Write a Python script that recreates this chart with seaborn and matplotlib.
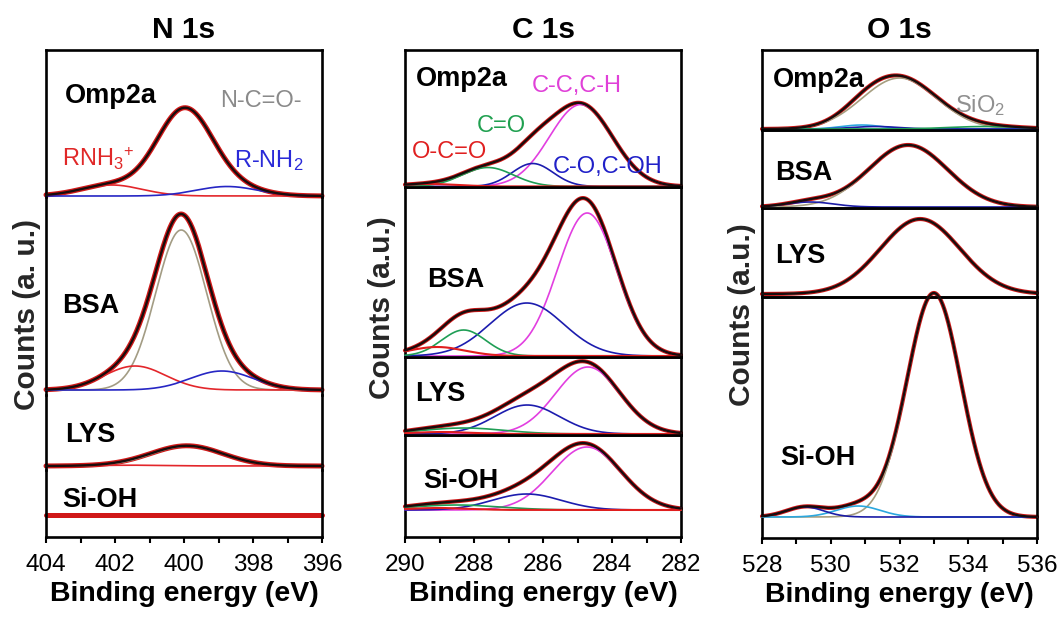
import numpy as np
import matplotlib
matplotlib.use("Agg")
import matplotlib.pyplot as plt
import seaborn as sns
from matplotlib.ticker import MultipleLocator, FormatStrFormatter

# ------------------------------------------------------------------
# DATA: fitted XPS peak components
# (centre in eV, height in a.u., FWHM in eV) for each sample
# ------------------------------------------------------------------
SAMPLES = ["Omp2a", "BSA", "LYS", "Si-OH"]

# ---- N 1s : components N-C=O- , RNH3+ , R-NH2
N1S_XRANGE = (404, 396)
N1S_COMPONENTS = ["N-C=O-", "RNH3+", "R-NH2"]
N1S_CENTER = {"Omp2a": [400.0, 402.1, 398.75],
              "BSA":   [400.08, 401.42, 398.9],
              "LYS":   [399.9, 401.5, 398.8],
              "Si-OH": [400.0, 401.5, 398.8]}
N1S_HEIGHT = {"Omp2a": [84, 11, 9.5],
              "BSA":   [160, 24, 19],
              "LYS":   [20, 0.8, 0],
              "Si-OH": [0, 0, 0]}
N1S_FWHM = {"Omp2a": [1.88, 2.1, 2.1],
            "BSA":   [1.74, 2.1, 2.15],
            "LYS":   [2.45, 2.4, 2.0],
            "Si-OH": [2.0, 2.0, 2.0]}

# ---- C 1s : components C-C,C-H , C-O,C-OH , C=O , O-C=O
C1S_XRANGE = (290, 282)
C1S_COMPONENTS = ["C-C,C-H", "C-O,C-OH", "C=O", "O-C=O"]
C1S_CENTER = {"Omp2a": [284.9, 286.3, 287.6, 289.3],
              "BSA":   [284.72, 286.47, 288.3, 289.07],
              "LYS":   [284.7, 286.46, 288.3, 288.9],
              "Si-OH": [284.73, 286.47, 288.5, 289.0]}
C1S_HEIGHT = {"Omp2a": [82, 23, 19, 2.5],
              "BSA":   [143, 53, 26, 9],
              "LYS":   [67, 29, 6, 2],
              "Si-OH": [63, 16, 5, 2]}
C1S_FWHM = {"Omp2a": [2.15, 1.4, 1.75, 2.0],
            "BSA":   [2.02, 2.5, 1.5, 1.9],
            "LYS":   [2.2, 2.2, 2.8, 2.0],
            "Si-OH": [2.35, 2.35, 3.0, 2.0]}

# ---- O 1s : components SiO2 , peak 2 , peak 3 , peak 4
O1S_XRANGE = (528, 536)
O1S_COMPONENTS = ["SiO2", "peak 2", "peak 3", "peak 4"]
O1S_CENTER = {"Omp2a": [532.0, 530.9, 531.3, 534.5],
              "BSA":   [532.25, 531.0, 529.4, 534.0],
              "LYS":   [532.6, 531.0, 529.5, 534.0],
              "Si-OH": [533.0, 530.8, 529.25, 534.0]}
O1S_HEIGHT = {"Omp2a": [51, 4, 2.5, 2.5],
              "BSA":   [62, 0, 5, 0],
              "LYS":   [75, 0, 0, 0],
              "Si-OH": [224, 11, 10, 0]}
O1S_FWHM = {"Omp2a": [2.55, 1.4, 1.6, 2.5],
            "BSA":   [2.7, 1.4, 1.6, 2.5],
            "LYS":   [2.72, 1.4, 1.6, 2.5],
            "Si-OH": [1.85, 1.5, 1.3, 2.5]}

# ------------------------------------------------------------------
# STYLE / LAYOUT
# ------------------------------------------------------------------
sns.set_theme(style="white")
plt.rcParams["font.family"] = ["Liberation Sans", "DejaVu Sans"]
plt.rcParams["mathtext.fontset"] = "custom"
plt.rcParams["mathtext.rm"] = "Liberation Sans"
plt.rcParams["mathtext.it"] = "Liberation Sans"
plt.rcParams["mathtext.bf"] = "Liberation Sans:bold"
plt.rcParams["axes.formatter.useoffset"] = False

RAW_COLOR = "#d01818"
FIT_COLOR = "#1a0c0c"
N_COLORS = ["#a39c84", "#e3262b", "#2626c4"]
C_COLORS = ["#e23fe0", "#1c1cae", "#1f9e55", "#e01e1e"]
O_COLORS = ["#a69e80", "#2ba7de", "#1c1ca6", "#1f9e55"]

W, H = 1059, 619
fig = plt.figure(figsize=(W / 100, H / 100), dpi=100)
fig.patch.set_facecolor("white")

# columns: x0, x1, rows (top, bottom, baseline) in pixels
COLUMNS = [
    ("N 1s", N1S_XRANGE, N1S_CENTER, N1S_HEIGHT, N1S_FWHM, N_COLORS, 46, 322,
     [(50, 197, 196), (197, 395, 390), (395, 470, 466), (470, 537, 515)], False),
    ("C 1s", C1S_XRANGE, C1S_CENTER, C1S_HEIGHT, C1S_FWHM, C_COLORS, 405, 681,
     [(50, 187, 186.5), (187, 357, 356), (357, 435, 434), (435, 537, 510)], True),
    ("O 1s", O1S_XRANGE, O1S_CENTER, O1S_HEIGHT, O1S_FWHM, O_COLORS, 762, 1037,
     [(50, 130, 129), (130, 208, 207), (208, 297, 294), (297, 538, 517)], True),
]
HIDDEN = {("N 1s", "Omp2a", 0)}


def px_axes(x0, x1, y0, y1):
    return fig.add_axes([x0 / W, 1 - y1 / H, (x1 - x0) / W, (y1 - y0) / H])


def ftext(x, y, s, **kw):
    fig.text(x / W, 1 - y / H, s, va="baseline", ha="left", **kw)


def peak(E, c, h, w):
    return h * np.exp(-4 * np.log(2) * (E - c) ** 2 / w ** 2)


for (title, xr, CEN, HEI, FWH, cols, x0, x1, rows, seps) in COLUMNS:
    E = np.linspace(min(xr), max(xr), 500)
    for i, (sample, (y0, y1, yb)) in enumerate(zip(SAMPLES, rows)):
        ax = px_axes(x0, x1, y0, y1)
        ax.set_facecolor("none")
        comps = [peak(E, c, h, w) for c, h, w in zip(CEN[sample], HEI[sample], FWH[sample])]
        env = np.sum(comps, axis=0)
        raw_lw = 3.6 if title == "N 1s" else 3.0
        sns.lineplot(x=E, y=env, ax=ax, color=RAW_COLOR, linewidth=raw_lw,
                     clip_on=False, legend=False, zorder=2)
        for k, (comp, col) in enumerate(zip(comps, cols)):
            if HEI[sample][k] == 0 or (title, sample, k) in HIDDEN:
                continue
            lw = 1.5 if (title == "C 1s" and k == 3) else 1.2
            sns.lineplot(x=E, y=comp, ax=ax, color=col, linewidth=lw,
                         clip_on=False, legend=False, zorder=3)
        if np.max(env) > 0:
            sns.lineplot(x=E, y=env, ax=ax, color=FIT_COLOR, linewidth=1.7,
                         clip_on=False, legend=False, zorder=4)
        ax.set_xlim(*xr)
        ax.set_ylim(yb - y1, yb - y0)
        ax.set_xlabel("")
        ax.set_ylabel("")
        for sp in ax.spines.values():
            sp.set_linewidth(1.9)
            sp.set_color("black")
            sp.set_visible(True)
        if not seps:
            if i > 0:
                ax.spines["top"].set_visible(False)
            if i < len(SAMPLES) - 1:
                ax.spines["bottom"].set_visible(False)
        ax.set_yticks([])
        if i == len(SAMPLES) - 1:
            ax.xaxis.set_major_locator(MultipleLocator(2))
            ax.xaxis.set_minor_locator(MultipleLocator(1))
            ax.xaxis.set_major_formatter(FormatStrFormatter("%d"))
            ax.tick_params(axis="x", which="both", direction="out", length=4.5,
                           width=1.5, color="black", bottom=True, top=False)
            ax.tick_params(axis="x", which="major", pad=8, labelsize=17.5,
                           labelcolor="black")
            ax.set_xlabel("Binding energy (eV)", fontsize=20.5, fontweight="bold",
                          labelpad=3, color="black")
        else:
            ax.set_xticks([])
        if i == 0:
            ax.set_title(title, fontsize=21.5, fontweight="bold", pad=8.5,
                         color="black")

# y labels
fig.text(27 / W, 1 - 314 / H, "Counts (a. u.)", rotation=90, ha="center",
         va="center", fontsize=21.5, fontweight="bold")
fig.text(382 / W, 1 - 308 / H, "Counts (a.u.)", rotation=90, ha="center",
         va="center", fontsize=21.5, fontweight="bold")
fig.text(742 / W, 1 - 315 / H, "Counts (a.u.)", rotation=90, ha="center",
         va="center", fontsize=21.5, fontweight="bold")

# sample labels
SB = dict(fontsize=19.5, fontweight="bold", color="black")
for (x, y, s) in [(65, 103, "Omp2a"), (62, 313, "BSA"), (65, 442, "LYS"), (62, 507, "Si-OH"),
                  (416, 86, "Omp2a"), (427, 287, "BSA"), (415, 401, "LYS"), (423, 488, "Si-OH"),
                  (773, 87, "Omp2a"), (775, 180, "BSA"), (775, 263, "LYS"), (780, 465, "Si-OH")]:
    ftext(x, y, s, **SB)

# component labels
CL = dict(fontsize=17)
ftext(220, 107, "N-C=O-", color="#8a8a8a", **CL)
ftext(62, 166, r"RNH$_{3}{}^{+}$", color="#e02828", **CL)
ftext(234, 167, r"R-NH$_2$", color="#2a2ad8", **CL)
ftext(532, 92, "C-C,C-H", color="#e040d8", **CL)
ftext(477, 132, "C=O", color="#20a050", **CL)
ftext(412, 158, "O-C=O", color="#e02020", **CL)
ftext(553, 173, "C-O,C-OH", color="#2020c8", **CL)
ftext(955, 112, r"SiO$_2$", color="#909090", **CL)

fig.savefig("out.png", dpi=100, facecolor="white")
